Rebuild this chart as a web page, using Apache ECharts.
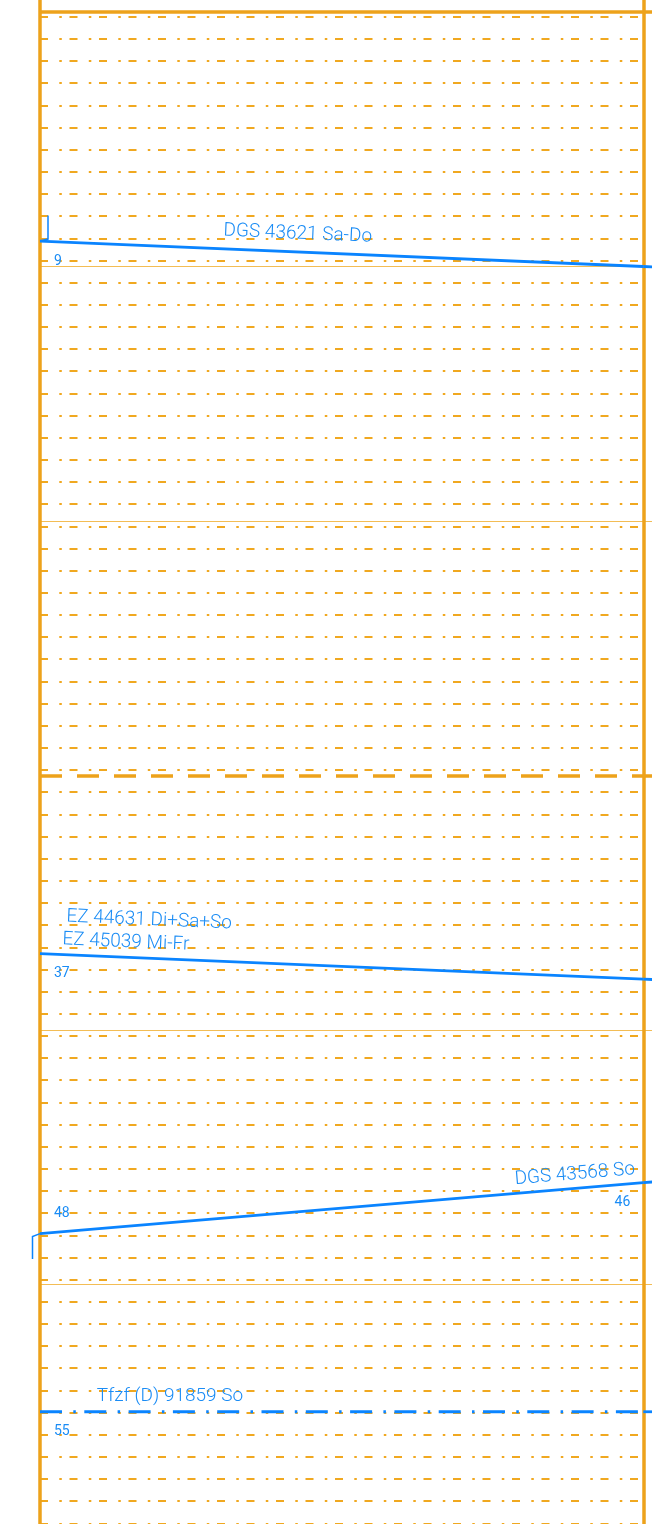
<!DOCTYPE html>
<html><head><meta charset="utf-8">
<script src="https://cdn.jsdelivr.net/npm/echarts@6/dist/echarts.min.js"></script>
<style>html,body{margin:0;padding:0;background:#fff;overflow:hidden}#c{width:652px;height:1524px}</style>
</head><body><div id="c"></div>
<script>
// ---------------- data ----------------
const stationKm = [0, 1, 2];                 // station positions along the line (3rd station lies beyond the right edge)
const majorTicks = [0, 10, 20, 30, 40, 50];  // minutes with heavy / medium grid lines
const minorRows = 68;                        // number of dotted grid intervals
const trainNames = [
  ['DGS 43621 Sa-Do'],
  ['EZ 44631 Di+Sa+So', 'EZ 45039 Mi-Fr'],
  ['DGS 43568 So'],
  ['Tfzf (D) 91859 So']
];
const trainTimes = [           // minute at station 0, 1, 2
  [9, 10, 11],
  [37, 38, 39],
  [48, 46, 44],
  [55, 55, 55]
];
const dwells = [               // train, station, from, to
  [0, 0, 8, 9],
  [2, 0, 48, 49]
];
const minuteLabels = [         // train, station
  [0, 0], [1, 0], [2, 0], [2, 1], [3, 0]
];

// ---------------- styles / layout ----------------
const ORANGE = '#eda21b';
const ORANGE_THIN = '#f3bd55';
const BLUE = '#0a84ff';
const BLUE_TEXT = '#1a8cf5';
const Y_MIN = -0.4715, Y_MAX = 59.41;        // top pad 12px, 25.45 px per minute
const X_MAX = 612 / 603.3;                   // grid spans 40..652, stations at 40 and 643
const trainDash = ['solid', 'solid', 'solid', [22, 11.3, 2.5, 8.5]];
const nameStyle = [
  { f: [0.426], above: [18], align: 'center' },
  { f: [0.041, 0.036], above: [38, 15], align: 'left' },
  { f: [0.988], above: [14], align: 'right' },
  { f: [0.094], above: [15.5], align: 'left' }
];
const NAME_FONT = '300 19px Roboto';
const MIN_FONT = '400 14px Roboto';

const chart = echarts.init(document.getElementById('c'), null, { renderer: 'canvas' });

function majorStyle(t) {
  if (t % 60 === 0) return { color: ORANGE, width: 3.5, type: 'solid' };
  if (t % 30 === 0) return { color: ORANGE, width: 3.5, type: [22, 15] };
  return { color: ORANGE_THIN, width: 1.2, type: 'solid' };
}

const series = [];
// frame lines (grid A)
series.push({
  type: 'line', xAxisIndex: 0, yAxisIndex: 0, data: [], silent: true, z: 2,
  markLine: {
    silent: true, symbol: ['none', 'none'], label: { show: false }, animation: false,
    data: majorTicks.map(t => ({ yAxis: t, lineStyle: majorStyle(t) }))
      .concat(stationKm.filter(k => k <= X_MAX).map(k => ({ xAxis: k, lineStyle: { color: ORANGE, width: 3.5, type: 'solid' } })))
  }
});
// train segments
trainTimes.forEach((times, ti) => {
  for (let s = 0; s < stationKm.length - 1; s++) {
    series.push({
      type: 'line', xAxisIndex: 0, yAxisIndex: 0, z: 5, symbol: 'none', silent: true,
      data: [[stationKm[s], times[s]], [stationKm[s + 1], times[s + 1]]],
      lineStyle: { color: BLUE, width: 2.8, type: trainDash[ti] }
    });
  }
});
// dwell marks
series.push({
  type: 'custom', xAxisIndex: 0, yAxisIndex: 0, z: 5, silent: true, clip: false,
  data: dwells,
  renderItem: function (params, api) {
    const ti = api.value(0), si = api.value(1), from = api.value(2), to = api.value(3);
    const x = stationKm[si];
    const a = api.coord([x, from]), b = api.coord([x, to]);
    let pts;
    if (from === trainTimes[ti][si]) {
      pts = [[a[0], a[1]], [a[0] - 7.5, a[1] + 3], [a[0] - 7.5, b[1]]];
    } else {
      pts = [[a[0] + 8, a[1]], [a[0] + 8, b[1] - 2], [b[0], b[1]]];
    }
    return { type: 'polyline', shape: { points: pts }, style: { stroke: BLUE, lineWidth: 1.5, fill: null } };
  }
});
// train names
series.push({
  type: 'custom', xAxisIndex: 0, yAxisIndex: 0, z: 6, silent: true, clip: false,
  data: trainNames.map((n, i) => [i]),
  renderItem: function (params, api) {
    const ti = api.value(0);
    const t = trainTimes[ti];
    const p0 = api.coord([stationKm[0], t[0]]), p1 = api.coord([stationKm[1], t[1]]);
    const dx = p1[0] - p0[0], dy = p1[1] - p0[1], len = Math.hypot(dx, dy);
    const nx = dy / len, ny = -dx / len;   // unit normal pointing up
    const st = nameStyle[ti];
    const children = trainNames[ti].map((name, k) => {
      const f = st.f[k], up = st.above[k];
      const px = p0[0] + dx * f + nx * up, py = p0[1] + dy * f + ny * up;
      return {
        type: 'text', x: px, y: py, rotation: -Math.atan2(dy, dx),
        style: { text: name, fill: BLUE_TEXT, font: NAME_FONT, align: st.align, verticalAlign: 'middle' }
      };
    });
    return { type: 'group', children: children };
  }
});
// minute labels
series.push({
  type: 'custom', xAxisIndex: 0, yAxisIndex: 0, z: 6, silent: true, clip: false,
  data: minuteLabels,
  renderItem: function (params, api) {
    const ti = api.value(0), si = api.value(1);
    const t = trainTimes[ti][si];
    const other = si === 0 ? trainTimes[ti][1] : trainTimes[ti][0];
    const dep = t <= other;
    const p = api.coord([stationKm[si], t]);
    const left = si === 0;
    return {
      type: 'text', x: p[0] + (left ? 14 : -13), y: p[1] + (dep ? 20 : -20),
      style: { text: String(t), fill: BLUE_TEXT, font: MIN_FONT, align: left ? 'left' : 'right', verticalAlign: 'middle' }
    };
  }
});

chart.setOption({
  animation: false,
  backgroundColor: '#ffffff',
  grid: [
    { left: 40, right: 0, top: 0, bottom: 0 },
    { left: 40, width: 603.3, top: 16.7, height: minorRows * 22.156 }
  ],
  xAxis: [
    { type: 'value', gridIndex: 0, min: 0, max: X_MAX, show: false },
    { type: 'value', gridIndex: 1, min: 0, max: 1, show: false }
  ],
  yAxis: [
    { type: 'value', gridIndex: 0, min: Y_MIN, max: Y_MAX, inverse: true, show: false },
    {
      type: 'value', gridIndex: 1, min: 0, max: minorRows, interval: 1, inverse: true,
      axisLine: { show: false }, axisTick: { show: false }, axisLabel: { show: false },
      splitLine: { show: true, lineStyle: { color: '#f0a820', width: 2, type: [8, 11.3, 2.5, 7.7] } }
    }
  ],
  series: series
});
</script></body></html>
